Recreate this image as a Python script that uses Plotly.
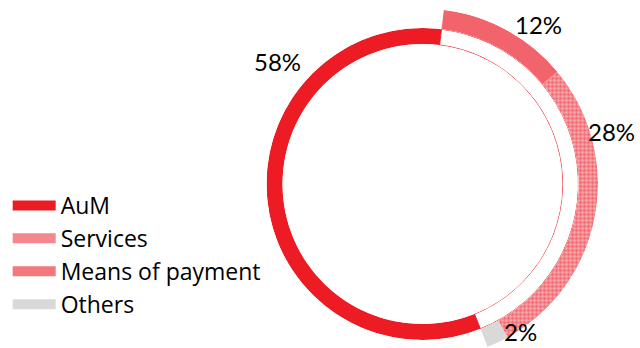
import plotly.graph_objects as go

# ---- data ----
categories = ["AuM", "Services", "Means of payment", "Others"]
shares = [58, 28, 12, 2]
ring_order = ["Means of payment", "Services", "Others", "AuM"]  # clockwise from start
colors = {"AuM": "#ED1C24", "Services": "#F7B3B6", "Means of payment": "#F2646C", "Others": "#D9D9D9"}
legend_colors = {"AuM": "#ED1C24", "Services": "#F3888E", "Means of payment": "#F4777D", "Others": "#D9D9D9"}
label_pos = {"AuM": (0.434, 0.822), "Means of payment": (0.842, 0.93), "Services": (0.956, 0.623), "Others": (0.813, 0.0)}
label_anchor = {"AuM": "middle", "Means of payment": "middle", "Services": "middle", "Others": "bottom"}

W, H = 640, 348
CX, CY = 422.5, 184.0
R_IN_HOLE, R_IN, R_OUT = 140.0, 156.0, 175.5
START = 7.0

share_of = dict(zip(categories, shares))

# angular positions derived from shares
starts = {}
acc = START
for c in ring_order:
    starts[c] = acc
    acc += share_of[c] * 3.6

fig = go.Figure()

# inner ring: AuM + white remainder
aum_w = share_of["AuM"] * 3.6
rest = 100 - share_of["AuM"]
fig.add_trace(go.Barpolar(
    r=[1, 1],
    theta=[starts["AuM"] + aum_w / 2, START + rest * 3.6 / 2],
    width=[aum_w, rest * 3.6],
    marker=dict(color=[colors["AuM"], "white"], line=dict(color=["#ED1C24", "#ED1C24"], width=[0, 1])),
    subplot="polar", showlegend=False, hoverinfo="skip"))

# outer ring: other components
for c in ["Means of payment", "Services", "Others"]:
    w = share_of[c] * 3.6
    mk = dict(color=colors[c], line=dict(width=0))
    if c == "Services":
        mk["pattern"] = dict(shape=".", fgcolor="#EE1C25", size=4, solidity=0.6)
    fig.add_trace(go.Barpolar(r=[1], theta=[starts[c] + w / 2], width=[w], marker=mk,
                              subplot="polar2", showlegend=False, name=c, hoverinfo="skip"))

# legend entries
for c in categories:
    fig.add_trace(go.Scatterpolar(r=[None], theta=[None], mode="lines", name=c,
                                  line=dict(color=legend_colors[c], width=10), subplot="polar"))

# percentage labels
for c in categories:
    x, y = label_pos[c]
    fig.add_annotation(x=x, y=y, xref="paper", yref="paper", text=f"{share_of[c]}%",
                       xanchor="center", yanchor=label_anchor[c],
                       showarrow=False, font=dict(size=24, color="#000000", family="Lato"))

fig.update_layout(
    width=W, height=H, margin=dict(l=0, r=0, t=0, b=0),
    paper_bgcolor="white", plot_bgcolor="white",
    font=dict(family="Lato", color="#000000"),
    polar=dict(
        domain=dict(x=[(CX - R_IN) / W, (CX + R_IN) / W], y=[1 - (CY + R_IN) / H, 1 - (CY - R_IN) / H]),
        hole=R_IN_HOLE / R_IN, bgcolor="rgba(0,0,0,0)", bargap=0,
        radialaxis=dict(visible=False, range=[0, 1]),
        angularaxis=dict(visible=False, direction="clockwise", rotation=90),
    ),
    polar2=dict(
        domain=dict(x=[CX / W, (CX + R_OUT) / W], y=[1 - (CY + R_OUT * 0.93358) / H, 1 - (CY - R_OUT) / H]),
        sector=[-69, 90],
        hole=R_IN / R_OUT, bgcolor="rgba(0,0,0,0)", bargap=0,
        radialaxis=dict(visible=False, range=[0, 1]),
        angularaxis=dict(visible=False, direction="clockwise", rotation=90),
    ),
    legend=dict(x=0.012, y=1 - 184 / H, xanchor="left", yanchor="top",
                font=dict(size=23, family="Open Sans", color="#000000"), itemwidth=43,
                bgcolor="rgba(0,0,0,0)", traceorder="normal"),
    showlegend=True,
)

fig.write_html("out.html")
